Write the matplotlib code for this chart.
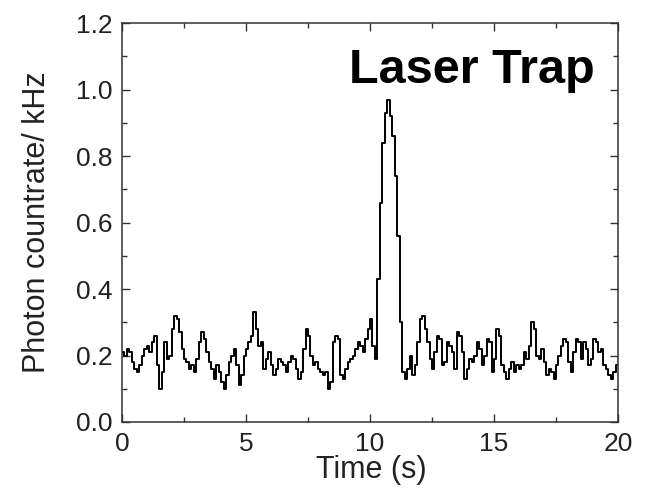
import numpy as np
import matplotlib
matplotlib.use("Agg")
import matplotlib.pyplot as plt
from matplotlib.ticker import MultipleLocator

# Photon count rate (kHz) in 0.1 s bins, t = 0 .. 19.9 s
rate = [
    0.21, 0.20, 0.22, 0.21, 0.18, 0.16, 0.15, 0.17, 0.20, 0.22,
    0.23, 0.21, 0.24, 0.26, 0.17, 0.10, 0.15, 0.24, 0.19, 0.20,
    0.28, 0.32, 0.31, 0.27, 0.22, 0.19, 0.18, 0.16, 0.17, 0.15,
    0.19, 0.24, 0.27, 0.25, 0.21, 0.18, 0.16, 0.13, 0.17, 0.15,
    0.12, 0.10, 0.14, 0.18, 0.20, 0.22, 0.17, 0.11, 0.14, 0.20,
    0.22, 0.24, 0.26, 0.33, 0.28, 0.23, 0.24, 0.16, 0.19, 0.21,
    0.17, 0.14, 0.16, 0.19, 0.18, 0.17, 0.15, 0.18, 0.20, 0.19,
    0.16, 0.13, 0.15, 0.22, 0.28, 0.26, 0.20, 0.17, 0.18, 0.16,
    0.15, 0.14, 0.15, 0.10, 0.12, 0.24, 0.26, 0.25, 0.14, 0.13,
    0.16, 0.18, 0.19, 0.20, 0.22, 0.24, 0.23, 0.21, 0.25, 0.28,
    0.31, 0.23, 0.19, 0.43, 0.66, 0.84, 0.93, 0.97, 0.92, 0.86,
    0.74, 0.56, 0.30, 0.15, 0.13, 0.16, 0.20, 0.14, 0.17, 0.24,
    0.31, 0.32, 0.28, 0.24, 0.19, 0.16, 0.21, 0.26, 0.25, 0.17,
    0.18, 0.24, 0.23, 0.21, 0.16, 0.27, 0.26, 0.21, 0.13, 0.16,
    0.19, 0.18, 0.20, 0.24, 0.22, 0.17, 0.20, 0.25, 0.24, 0.15,
    0.19, 0.28, 0.26, 0.17, 0.15, 0.13, 0.16, 0.18, 0.15, 0.17,
    0.16, 0.17, 0.21, 0.19, 0.23, 0.30, 0.28, 0.20, 0.19, 0.22,
    0.18, 0.14, 0.16, 0.15, 0.13, 0.17, 0.20, 0.23, 0.25, 0.24,
    0.18, 0.15, 0.21, 0.25, 0.24, 0.19, 0.24, 0.22, 0.17, 0.19,
    0.25, 0.24, 0.21, 0.22, 0.17, 0.16, 0.14, 0.13, 0.15, 0.17,
]
bin_width = 0.1
x_ticks = [0, 5, 10, 15, 20]
y_ticks = [0.0, 0.2, 0.4, 0.6, 0.8, 1.0, 1.2]
x_label = "Time (s)"
y_label = "Photon countrate/ kHz"
annotation = "Laser Trap"

plt.rcParams['font.family'] = ['Liberation Sans', 'DejaVu Sans']

t = np.arange(len(rate)) * bin_width
t_edges = np.append(t, t[-1] + bin_width)
v_edges = np.append(rate, rate[-1])

fig = plt.figure(figsize=(6.53, 5.01), dpi=100)
ax = fig.add_axes([0.1868, 0.1577, 0.7596, 0.7963])

ax.step(t_edges, v_edges, where='post', color='black', lw=1.4)

ax.set_xlim(0, 20)
ax.set_ylim(0, 1.2)
ax.set_xticks(x_ticks)
ax.set_yticks(y_ticks)
ax.set_xticklabels([str(v) for v in x_ticks])
ax.set_yticklabels([f"{v:.1f}" for v in y_ticks])
ax.xaxis.set_minor_locator(MultipleLocator(2.5))
ax.yaxis.set_minor_locator(MultipleLocator(0.1))

txt_color = '#222222'
ax.tick_params(which='both', direction='in', top=True, right=True,
               color='#333333', width=1.0)
ax.tick_params(which='major', length=6, labelsize=19, labelcolor=txt_color, pad=7)
ax.tick_params(which='minor', length=3.5)
for s in ax.spines.values():
    s.set_linewidth(1.1)
    s.set_color('#333333')

ax.set_xlabel(x_label, fontsize=22, color=txt_color)
ax.set_ylabel(y_label, fontsize=22, color=txt_color)
ax.xaxis.set_label_coords(0.502, -0.083)
ax.yaxis.set_label_coords(-0.142, 0.5)

ax.text(19.07, 1.02, annotation, fontsize=35, fontweight='bold',
        ha='right', va='baseline', color='black')

fig.savefig("out.png", dpi=100)
